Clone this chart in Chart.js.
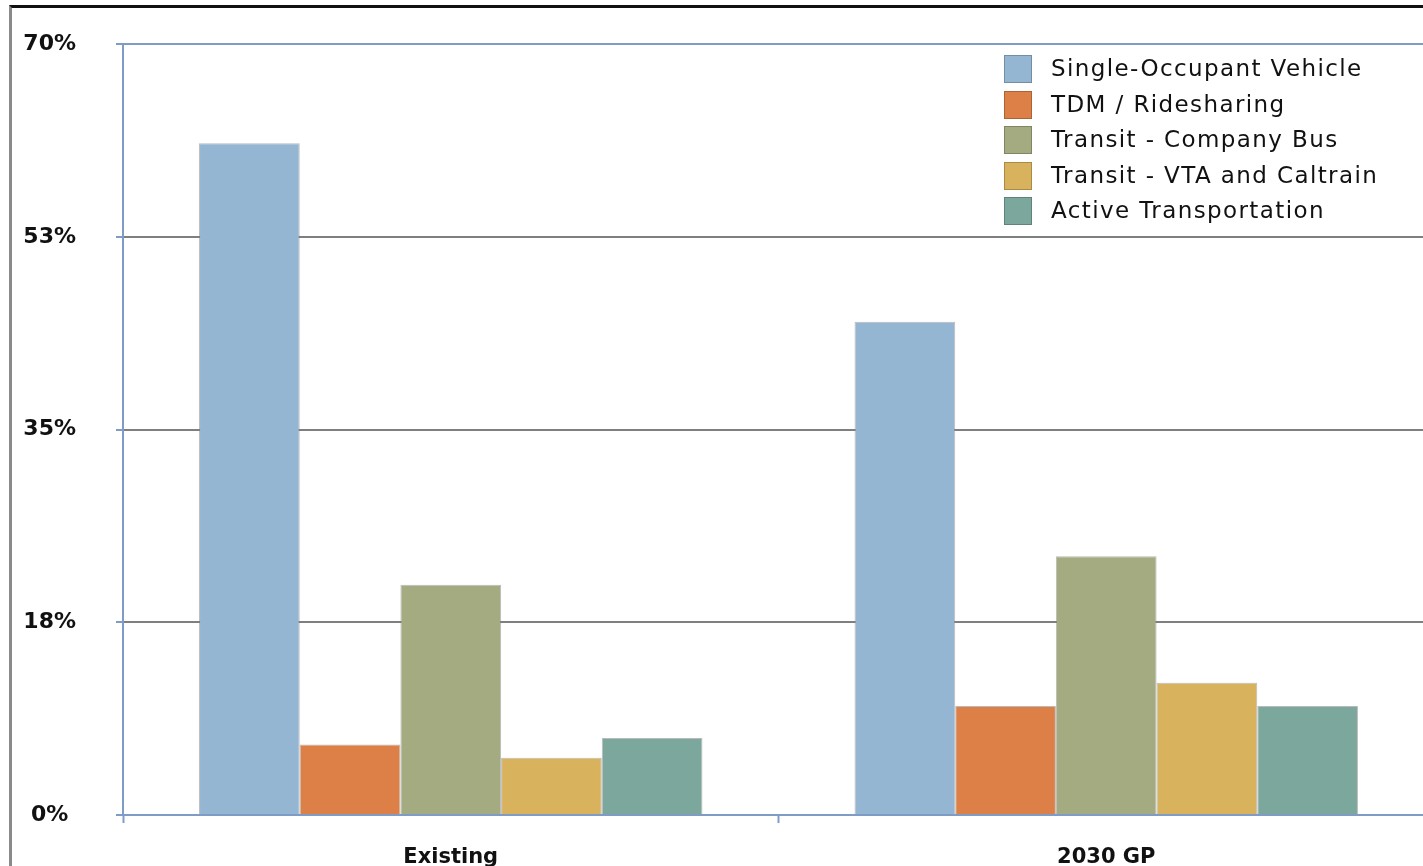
<!DOCTYPE html>
<html>
<head>
<meta charset="utf-8">
<script src="https://cdn.jsdelivr.net/npm/chart.js@4.4.1/dist/chart.umd.min.js"></script>
<style>
  html, body { margin: 0; padding: 0; overflow: hidden; background: #fff; width: 1423px; height: 866px; }
  #frame { position: absolute; left: 9px; top: 5px; right: 0; bottom: 0;
           border-top: 3px solid #111; border-left: 3px solid #8a8a8a; }
  #wrap { position: absolute; left: 0; top: -9px; }
  #legend { position: absolute; left: 1004px; top: 55px; font-family: "DejaVu Sans", sans-serif;
            font-size: 23px; color: #111; letter-spacing: 1.4px; }
  #legend .row { height: 35.5px; display: flex; align-items: flex-start; }
  #legend .box { width: 28px; height: 28px; border: 1px solid rgba(0,0,0,0.22); margin-right: 19px; box-sizing: border-box; }
  #legend .txt { line-height: 27px; }
</style>
</head>
<body>
<div id="frame"></div>
<div id="wrap"><canvas id="modeChart" width="1436" height="899"></canvas></div>
<div id="legend"></div>
<script>
const categories = ["Existing", "2030 GP"];
const seriesNames = ["Single-Occupant Vehicle", "TDM / Ridesharing", "Transit - Company Bus",
                     "Transit - VTA and Caltrain", "Active Transportation"];
const sov      = [61.0, 44.8];
const tdm      = [6.4, 9.9];
const compBus  = [20.9, 23.5];
const vtaRail  = [5.2, 12.0];
const active   = [7.0, 9.9];
const yTicks   = [0, 17.5, 35, 52.5, 70];

const colors = ["#94b6d2", "#dd8047", "#a5ab81", "#d8b25c", "#7ba79d"];
const values = [sov, tdm, compBus, vtaRail, active];
const axisBlue = "#7f9cc6";

const datasets = values.map((v, i) => ({
  label: seriesNames[i],
  data: v,
  backgroundColor: colors[i],
  borderColor: "rgba(130,130,130,0.55)",
  borderWidth: 1,
  categoryPercentage: 0.768,
  barPercentage: 1.0
}));

new Chart(document.getElementById("modeChart"), {
  type: "bar",
  data: { labels: categories, datasets: datasets },
  options: {
    responsive: false,
    animation: false,
    layout: { padding: { top: 35, right: 2, left: 0, bottom: 0 } },
    plugins: { legend: { display: false }, tooltip: { enabled: false } },
    scales: {
      x: {
        grid: { drawOnChartArea: false, offset: true, tickLength: 8, tickColor: axisBlue, tickWidth: 2 },
        border: { color: axisBlue, width: 2 },
        ticks: { padding: 22, color: "#111", font: { family: "DejaVu Sans", size: 21, weight: "bold" } },
        afterFit(scale) { scale.height = 75; }
      },
      y: {
        min: 0,
        max: 70,
        afterBuildTicks(scale) { scale.ticks = yTicks.map(v => ({ value: v })); },
        grid: {
          color: c => (c.tick && (c.tick.value === 70 || c.tick.value === 0)) ? axisBlue : "#7f7f7f",
          lineWidth: 2,
          tickLength: 7,
          tickColor: axisBlue
        },
        border: { color: axisBlue, width: 2 },
        ticks: {
          crossAlign: "center",
          padding: 40,
          color: "#111",
          font: { family: "DejaVu Sans", size: 22, weight: "bold" },
          callback: v => Math.round(v) + "%"
        },
        afterFit(scale) { scale.width = 123; }
      }
    }
  }
});

const legend = document.getElementById("legend");
seriesNames.forEach((name, i) => {
  const row = document.createElement("div");
  row.className = "row";
  const box = document.createElement("div");
  box.className = "box";
  box.style.background = colors[i];
  const txt = document.createElement("span");
  txt.className = "txt";
  txt.textContent = name;
  row.appendChild(box);
  row.appendChild(txt);
  legend.appendChild(row);
});
</script>
</body>
</html>
